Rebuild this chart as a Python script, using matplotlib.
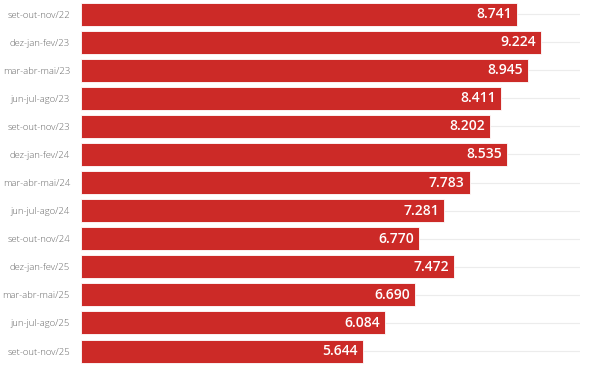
import matplotlib
matplotlib.use("Agg")
import matplotlib.pyplot as plt

categories = ["set-out-nov/22", "dez-jan-fev/23", "mar-abr-mai/23", "jun-jul-ago/23",
              "set-out-nov/23", "dez-jan-fev/24", "mar-abr-mai/24", "jun-jul-ago/24",
              "set-out-nov/24", "dez-jan-fev/25", "mar-abr-mai/25", "jun-jul-ago/25",
              "set-out-nov/25"]
values = [8.741, 9.224, 8.945, 8.411, 8.202, 8.535, 7.783, 7.281, 6.770, 7.472,
          6.690, 6.084, 5.644]
labels = ["8.741", "9.224", "8.945", "8.411", "8.202", "8.535", "7.783", "7.281",
          "6.770", "7.472", "6.690", "6.084", "5.644"]

fig = plt.figure(figsize=(6, 3.71), dpi=100)
ax = fig.add_axes([0.135, 0.016, 0.832, 0.984])
y = list(range(len(categories)))
ax.barh(y, values, height=0.82, color="#cc2a27", edgecolor="white", linewidth=0.6, zorder=2)
for yi in y:
    ax.axhline(yi, color="#ececec", linewidth=0.8, zorder=1)
for yi, v, lab in zip(y, values, labels):
    ax.text(v - 0.1, yi, lab, ha="right", va="center", color="white",
            fontsize=10, fontweight="semibold", family=["Open Sans", "DejaVu Sans"], zorder=3)
ax.set_xlim(0, 10)
ax.set_ylim(len(categories) - 0.5, -0.5)
ax.set_yticks(y)
ax.set_yticklabels(categories, fontsize=6.8, color="#666666", fontweight="light",
                   family=["Open Sans", "DejaVu Sans"])
ax.tick_params(axis="y", length=0, pad=8)
ax.set_xticks([])
for s in ax.spines.values():
    s.set_visible(False)
fig.savefig("out.png", dpi=100)
